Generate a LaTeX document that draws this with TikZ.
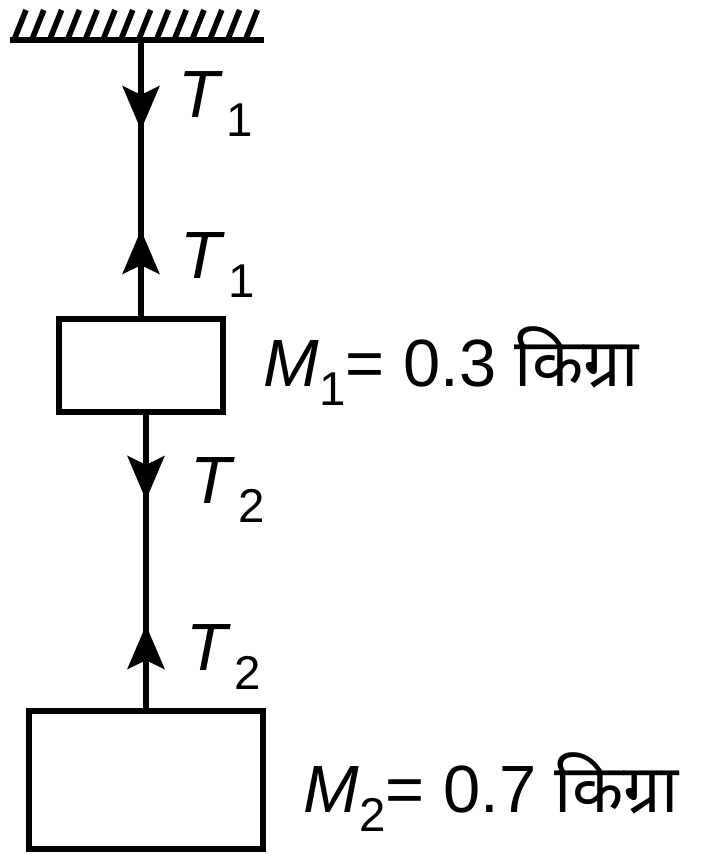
\documentclass[tikz,border=0pt]{standalone}
\usepackage{fontspec}
\setmainfont{Liberation Sans}
\newfontfamily\hindi[Script=Devanagari]{Noto Sans}
\usetikzlibrary{positioning, arrows.meta}
\newcommand{\tsub}[2]{\textit{#1}\raisebox{-0.55ex}{\fontsize{13.5}{13.5}\selectfont #2}}

\begin{document}
\begin{tikzpicture}[x=0.01cm, y=-0.01cm,
	rope/.style={line width=1.6pt},
	mass/.style={draw, line width=1.6pt, inner sep=0pt},
	pull/.style={-{Stealth[length=12.5pt, width=10.5pt, inset=2.5pt]}, line width=1.6pt},
	tlabel/.style={anchor=base west, inner sep=0pt, font=\fontsize{19}{22}\selectfont}]
	\useasboundingbox (0,0) rectangle (723,856);
	% ceiling
	\draw[line width=1.8pt] (10,40) -- (264,40);
	\foreach \i in {0,...,13}
		\draw[line width=1.6pt] (14+17.8*\i,40) -- (26+17.8*\i,10);
	\coordinate (hook) at (141,40);
	% masses
	\node[mass, minimum width=1.64cm, minimum height=0.93cm] (box1) at (141,365.5) {};
	\node[mass, minimum width=2.34cm, minimum height=1.38cm] (box2) at (146,780) {};
	% strings
	\draw[rope] (hook) -- (box1.north);
	\draw[rope] (box2.north |- box1.south) -- (box2.north);
	% tension arrows
	\draw[pull] (141,86) -- (141,130);
	\draw[pull] (141,274) -- (141,230);
	\draw[pull] (146,455) -- (146,500);
	\draw[pull] (146,670) -- (146,625);
	% labels
	\node[tlabel] (t1a) at (178,117) {\tsub{T}{\kern1pt 1}};
	\node[tlabel] (t1b) at (180,278) {\tsub{T}{\kern1pt 1}};
	\node[tlabel] (t2a) at (190,503) {\tsub{T}{\kern1pt 2}};
	\node[tlabel] (t2b) at (186,670) {\tsub{T}{\kern1pt 2}};
	\node[tlabel] (m1) at (263,386) {\tsub{M}{1}= 0.3 {\hindi किग्रा}};
	\node[tlabel] (m2) at (303,812) {\tsub{M}{2}= 0.7 {\hindi किग्रा}};
\end{tikzpicture}
\end{document}
